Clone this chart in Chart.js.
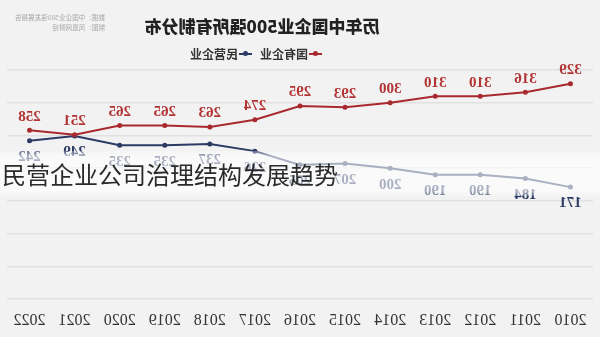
<!DOCTYPE html>
<html>
<head>
<meta charset="utf-8">
<script src="https://cdn.jsdelivr.net/npm/chart.js@4.4.1/dist/chart.umd.min.js"></script>
<style>
    html, body { margin: 0; padding: 0; background: #f2f2f2; }
    #wrap { position: relative; width: 600px; height: 337px; overflow: hidden; background: #f2f2f2; }
    /* the reference picture is mirrored left-right, so the whole chart is flipped */
    #flip { position: absolute; left: 0; top: 0; width: 600px; height: 337px; transform: scaleX(-1); }
    #title { position: absolute; top: 13px; left: 338px; transform: translateX(-50%); white-space: nowrap;
             font: 900 17px "Noto Sans CJK SC"; color: #222; }
    #source { position: absolute; top: 12px; left: 495px; font: 6.6px "Noto Sans CJK SC"; line-height: 10px; color: #a8a8a8; white-space: nowrap; }
    #legend { position: absolute; top: 45px; left: 278px; display: flex; align-items: center;
              font: bold 12px "Noto Sans CJK SC"; color: #333; white-space: nowrap; }
    .item { display: flex; align-items: center; margin-right: 8px; }
    .mark { position: relative; width: 13px; height: 2px; margin-right: 1px; }
    .mark i { position: absolute; left: 4px; top: -2px; width: 5px; height: 5px; border-radius: 50%; }
    #strip { position: absolute; left: 0; top: 151px; width: 600px; height: 45px;
             background: linear-gradient(to bottom, rgba(255,255,255,0.25) 0px, rgba(255,255,255,0.6) 5px, rgba(255,255,255,0.6) 40px, rgba(255,255,255,0.25) 45px); }
    #caption { position: absolute; left: 2px; top: 159px; font: 24px "Noto Sans CJK SC"; line-height: 30px; color: #2a2a2a; white-space: nowrap; }
</style>
</head>
<body>
<div id="wrap">
    <div id="flip">
        <canvas id="chart" width="600" height="337"></canvas>
        <div id="title">历年中国企业500强所有制分布</div>
        <div id="source">数据：中国企业500强发展报告<br>制图：凤凰网财经</div>
        <div id="legend">
            <span class="item"><span class="mark" style="background:#a82a2e"><i style="background:#a82a2e"></i></span>国有企业</span>
            <span class="item"><span class="mark" style="background:#2c3a64"><i style="background:#2c3a64"></i></span>民营企业</span>
        </div>
    </div>
    <div id="strip"></div>
    <div id="caption">民营企业公司治理结构发展趋势</div>
</div>
<script>
const years = ['2010', '2011', '2012', '2013', '2014', '2015', '2016', '2017', '2018', '2019', '2020', '2021', '2022'];
const stateOwned = [329, 316, 310, 310, 300, 293, 295, 274, 263, 265, 265, 251, 258];
const privateOwned = [171, 184, 190, 190, 200, 207, 205, 226, 237, 235, 235, 249, 242];
const yTicks = [0, 50, 100, 150, 200, 250, 300, 350];

const RED = '#a82a2e';
const NAVY = '#2c3a64';

// value labels: red above the points, navy below
const valueLabels = {
    id: 'valueLabels',
    afterDatasetsDraw(chart) {
        const ctx = chart.ctx;
        ctx.save();
        ctx.font = 'bold 15px "Liberation Serif"';
        ctx.textAlign = 'center';
        chart.data.datasets.forEach((ds, i) => {
            const meta = chart.getDatasetMeta(i);
            meta.data.forEach((pt, j) => {
                ctx.fillStyle = ds.labelColor;
                if (ds.labelPos === 'above') {
                    ctx.textBaseline = 'bottom';
                    ctx.fillText(ds.data[j], pt.x, pt.y - 6);
                } else {
                    ctx.textBaseline = 'top';
                    ctx.fillText(ds.data[j], pt.x, pt.y + 9);
                }
            });
        });
        ctx.restore();
    }
};

new Chart(document.getElementById('chart'), {
    type: 'line',
    data: {
        labels: years,
        datasets: [
            {
                label: '国有企业',
                data: stateOwned,
                borderColor: RED,
                backgroundColor: RED,
                pointBackgroundColor: RED,
                borderWidth: 2,
                pointRadius: 2.5,
                pointBorderWidth: 0,
                tension: 0,
                labelColor: '#b13333',
                labelPos: 'above'
            },
            {
                label: '民营企业',
                data: privateOwned,
                borderColor: NAVY,
                backgroundColor: NAVY,
                pointBackgroundColor: NAVY,
                borderWidth: 2,
                pointRadius: 2.5,
                pointBorderWidth: 0,
                tension: 0,
                labelColor: NAVY,
                labelPos: 'below'
            }
        ]
    },
    options: {
        responsive: false,
        animation: false,
        devicePixelRatio: 1,
        layout: { padding: { top: 70, left: 7, right: 7, bottom: 0 } },
        plugins: {
            legend: { display: false },
            title: { display: false },
            tooltip: { enabled: false }
        },
        scales: {
            x: {
                offset: true,
                grid: { display: false, drawTicks: false },
                border: { display: false },
                ticks: { color: '#333', font: { family: 'Liberation Serif', size: 16 }, padding: 12, maxRotation: 0 },
                afterFit: (axis) => { axis.height = 38; }
            },
            y: {
                min: yTicks[0],
                max: yTicks[yTicks.length - 1],
                afterBuildTicks: (axis) => { axis.ticks = yTicks.map(v => ({ value: v })); },
                grid: { color: '#e1e1e1', lineWidth: 1.5, drawTicks: false },
                border: { display: false },
                ticks: { display: false }
            }
        }
    },
    plugins: [valueLabels]
});
</script>
</body>
</html>
